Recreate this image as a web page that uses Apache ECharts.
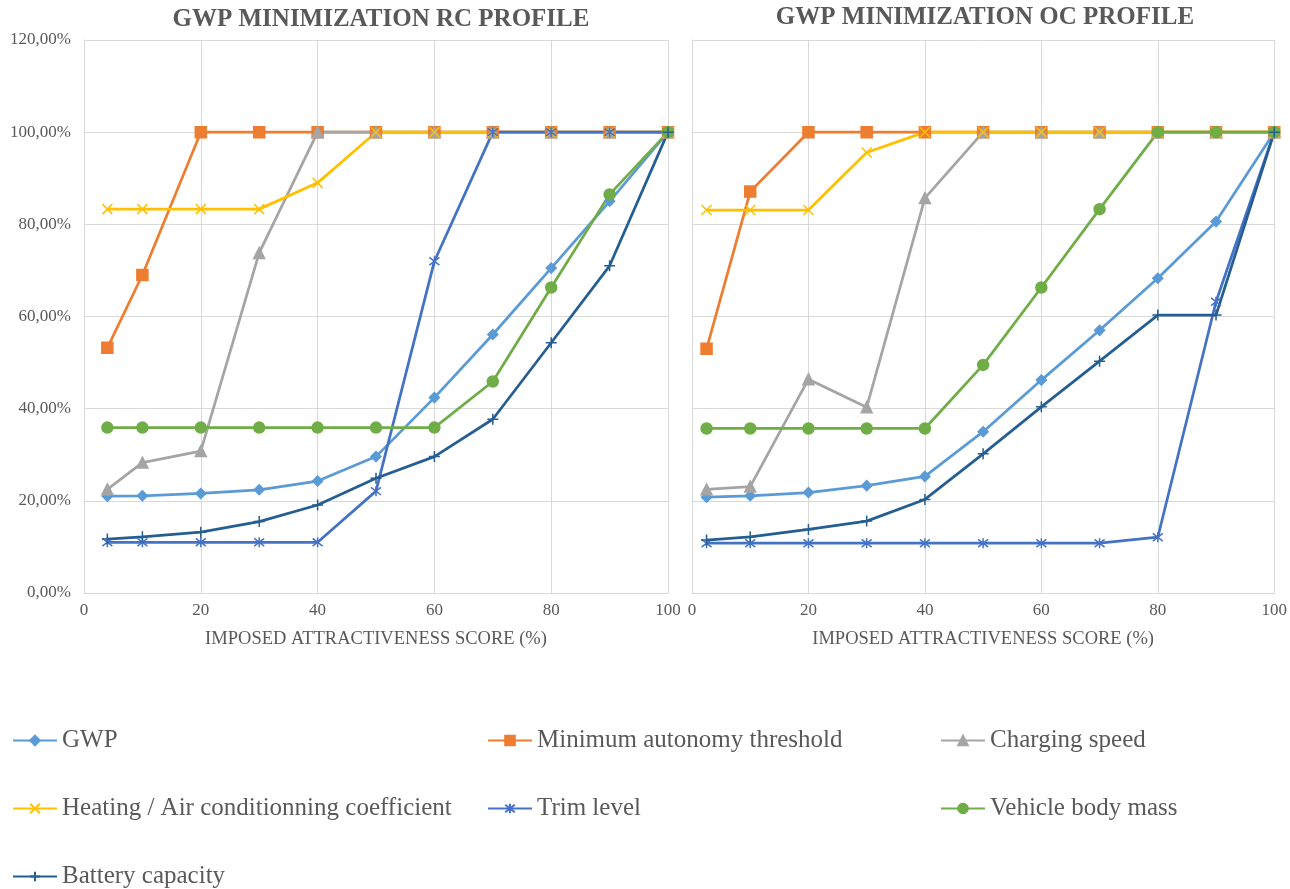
<!DOCTYPE html>
<html>
<head>
<meta charset="utf-8">
<title>GWP minimization profiles</title>
<script src="https://cdn.jsdelivr.net/npm/echarts@6/dist/echarts.min.js"></script>
<style>
  html, body { margin: 0; padding: 0; background: #ffffff; }
  #chart { width: 1290px; height: 889px; }
</style>
</head>
<body>
<div id="chart"></div>
<script>
// x positions (imposed attractiveness score, %)
const scoresRC = [4, 10, 20, 30, 40, 50, 60, 70, 80, 90, 100];
const scoresOC = [2.5, 10, 20, 30, 40, 50, 60, 70, 80, 90, 100];

const seriesNames = [
  'GWP',
  'Minimum autonomy threshold',
  'Charging speed',
  'Heating / Air conditionning coefficient',
  'Trim level',
  'Vehicle body mass',
  'Battery capacity'
];

// RC profile values (%)
const gwpRC      = [21.0, 21.1, 21.6, 22.4, 24.3, 29.6, 42.4, 56.1, 70.5, 85.0, 100];
const autonomyRC = [53.2, 69.0, 100, 100, 100, 100, 100, 100, 100, 100, 100];
const chargingRC = [22.5, 28.3, 30.8, 73.8, 100, 100, 100, 100, 100, 100, 100];
const heatingRC  = [83.3, 83.3, 83.3, 83.3, 89.0, 100, 100, 100, 100, 100, 100];
const trimRC     = [11.0, 11.0, 11.0, 11.0, 11.0, 22.1, 72.0, 100, 100, 100, 100];
const massRC     = [35.9, 35.9, 35.9, 35.9, 35.9, 35.9, 35.9, 45.9, 66.3, 86.5, 100];
const batteryRC  = [11.7, 12.2, 13.2, 15.5, 19.1, 24.9, 29.6, 37.7, 54.3, 71.0, 100];

// OC profile values (%)
const gwpOC      = [20.8, 21.1, 21.8, 23.3, 25.3, 35.0, 46.2, 57.0, 68.3, 80.6, 100];
const autonomyOC = [53.0, 87.1, 100, 100, 100, 100, 100, 100, 100, 100, 100];
const chargingOC = [22.5, 23.1, 46.4, 40.3, 85.7, 100, 100, 100, 100, 100, 100];
const heatingOC  = [83.1, 83.1, 83.1, 95.6, 100, 100, 100, 100, 100, 100, 100];
const trimOC     = [10.8, 10.8, 10.8, 10.8, 10.8, 10.8, 10.8, 10.8, 12.1, 63.2, 100];
const massOC     = [35.7, 35.7, 35.7, 35.7, 35.7, 49.5, 66.3, 83.3, 100, 100, 100];
const batteryOC  = [11.5, 12.2, 13.8, 15.6, 20.3, 30.2, 40.4, 50.3, 60.3, 60.3, 100];

const yTicks = [0, 20, 40, 60, 80, 100, 120];
const xTicks = [0, 20, 40, 60, 80, 100];

const colors = ['#5B9BD5', '#ED7D31', '#A5A5A5', '#FFC000', '#4472C4', '#70AD47', '#255E91'];
const symbols = [
  'diamond',
  'rect',
  'triangle',
  'path://M0,0L10,10M10,0L0,10',
  'path://M0,0L10,10M10,0L0,10M5,-1.5L5,11.5',
  'circle',
  'path://M5,0L5,10M0,5L10,5'
];
const symbolSizes = [10, 11, 11, 10, 10, 11, 11];

const rcData = [gwpRC, autonomyRC, chargingRC, heatingRC, trimRC, massRC, batteryRC];
const ocData = [gwpOC, autonomyOC, chargingOC, heatingOC, trimOC, massOC, batteryOC];

const textColor = '#595959';
const gridColor = '#D9D9D9';
const serif = '"Liberation Serif", "DejaVu Serif", serif';

const chartInstance = echarts.init(document.getElementById('chart'));

const makeXAxis = (gridIndex) => ({
  type: 'value',
  gridIndex: gridIndex,
  min: xTicks[0],
  max: xTicks[xTicks.length - 1],
  interval: 20,
  name: 'IMPOSED ATTRACTIVENESS SCORE (%)',
  nameLocation: 'middle',
  nameGap: 37,
  nameTextStyle: { color: textColor, fontFamily: serif, fontSize: 18.5 },
  axisLine: { show: true, lineStyle: { color: gridColor, width: 1 } },
  axisTick: { show: false },
  axisLabel: { color: textColor, fontFamily: serif, fontSize: 17, margin: 9 },
  splitLine: { show: true, lineStyle: { color: gridColor, width: 1 } }
});

const makeYAxis = (gridIndex, showLabels) => ({
  type: 'value',
  gridIndex: gridIndex,
  min: yTicks[0],
  max: yTicks[yTicks.length - 1],
  interval: 20,
  axisLine: { show: true, lineStyle: { color: gridColor, width: 1 } },
  axisTick: { show: false },
  axisLabel: {
    show: showLabels,
    color: textColor,
    fontFamily: serif,
    fontSize: 17,
    margin: 13,
    formatter: (v) => v.toFixed(2).replace('.', ',') + '%'
  },
  splitLine: { show: true, lineStyle: { color: gridColor, width: 1 } }
});

const makeSeries = (data, scores, axisIndex) =>
  seriesNames.map((name, i) => ({
    name: name,
    type: 'line',
    xAxisIndex: axisIndex,
    yAxisIndex: axisIndex,
    data: scores.map((x, k) => [x, data[i][k]]),
    symbol: symbols[i],
    symbolSize: symbolSizes[i],
    showAllSymbol: true,
    lineStyle: { color: colors[i], width: 2.75 },
    itemStyle: { color: colors[i], borderColor: colors[i], borderWidth: 1.5 },
    emphasis: { disabled: true }
  }));

const legendText = { color: textColor, fontFamily: serif, fontSize: 25, lineHeight: 24 };
const makeLegend = (names, left) => ({
  data: names,
  orient: 'vertical',
  left: left,
  top: 728,
  padding: 0,
  itemGap: 43,
  itemWidth: 44,
  itemHeight: 12,
  textStyle: legendText,
  selectedMode: false
});

const option = {
  animation: false,
  backgroundColor: '#ffffff',
  title: [
    {
      text: 'GWP MINIMIZATION RC PROFILE',
      left: 376,
      top: 2,
      textAlign: 'center',
      textStyle: { color: textColor, fontFamily: serif, fontWeight: 'bold', fontSize: 25 }
    },
    {
      text: 'GWP MINIMIZATION OC PROFILE',
      left: 980,
      top: 0,
      textAlign: 'center',
      textStyle: { color: textColor, fontFamily: serif, fontWeight: 'bold', fontSize: 25 }
    }
  ],
  legend: [
    makeLegend([seriesNames[0], seriesNames[3], seriesNames[6]], 12),
    makeLegend([seriesNames[1], seriesNames[4]], 487),
    makeLegend([seriesNames[2], seriesNames[5]], 940)
  ],
  grid: [
    { left: 84, top: 40, width: 584, height: 553 },
    { left: 692, top: 40, width: 583, height: 553 }
  ],
  xAxis: [makeXAxis(0), makeXAxis(1)],
  yAxis: [makeYAxis(0, true), makeYAxis(1, false)],
  series: [...makeSeries(rcData, scoresRC, 0), ...makeSeries(ocData, scoresOC, 1)]
};

chartInstance.setOption(option);
</script>
</body>
</html>
